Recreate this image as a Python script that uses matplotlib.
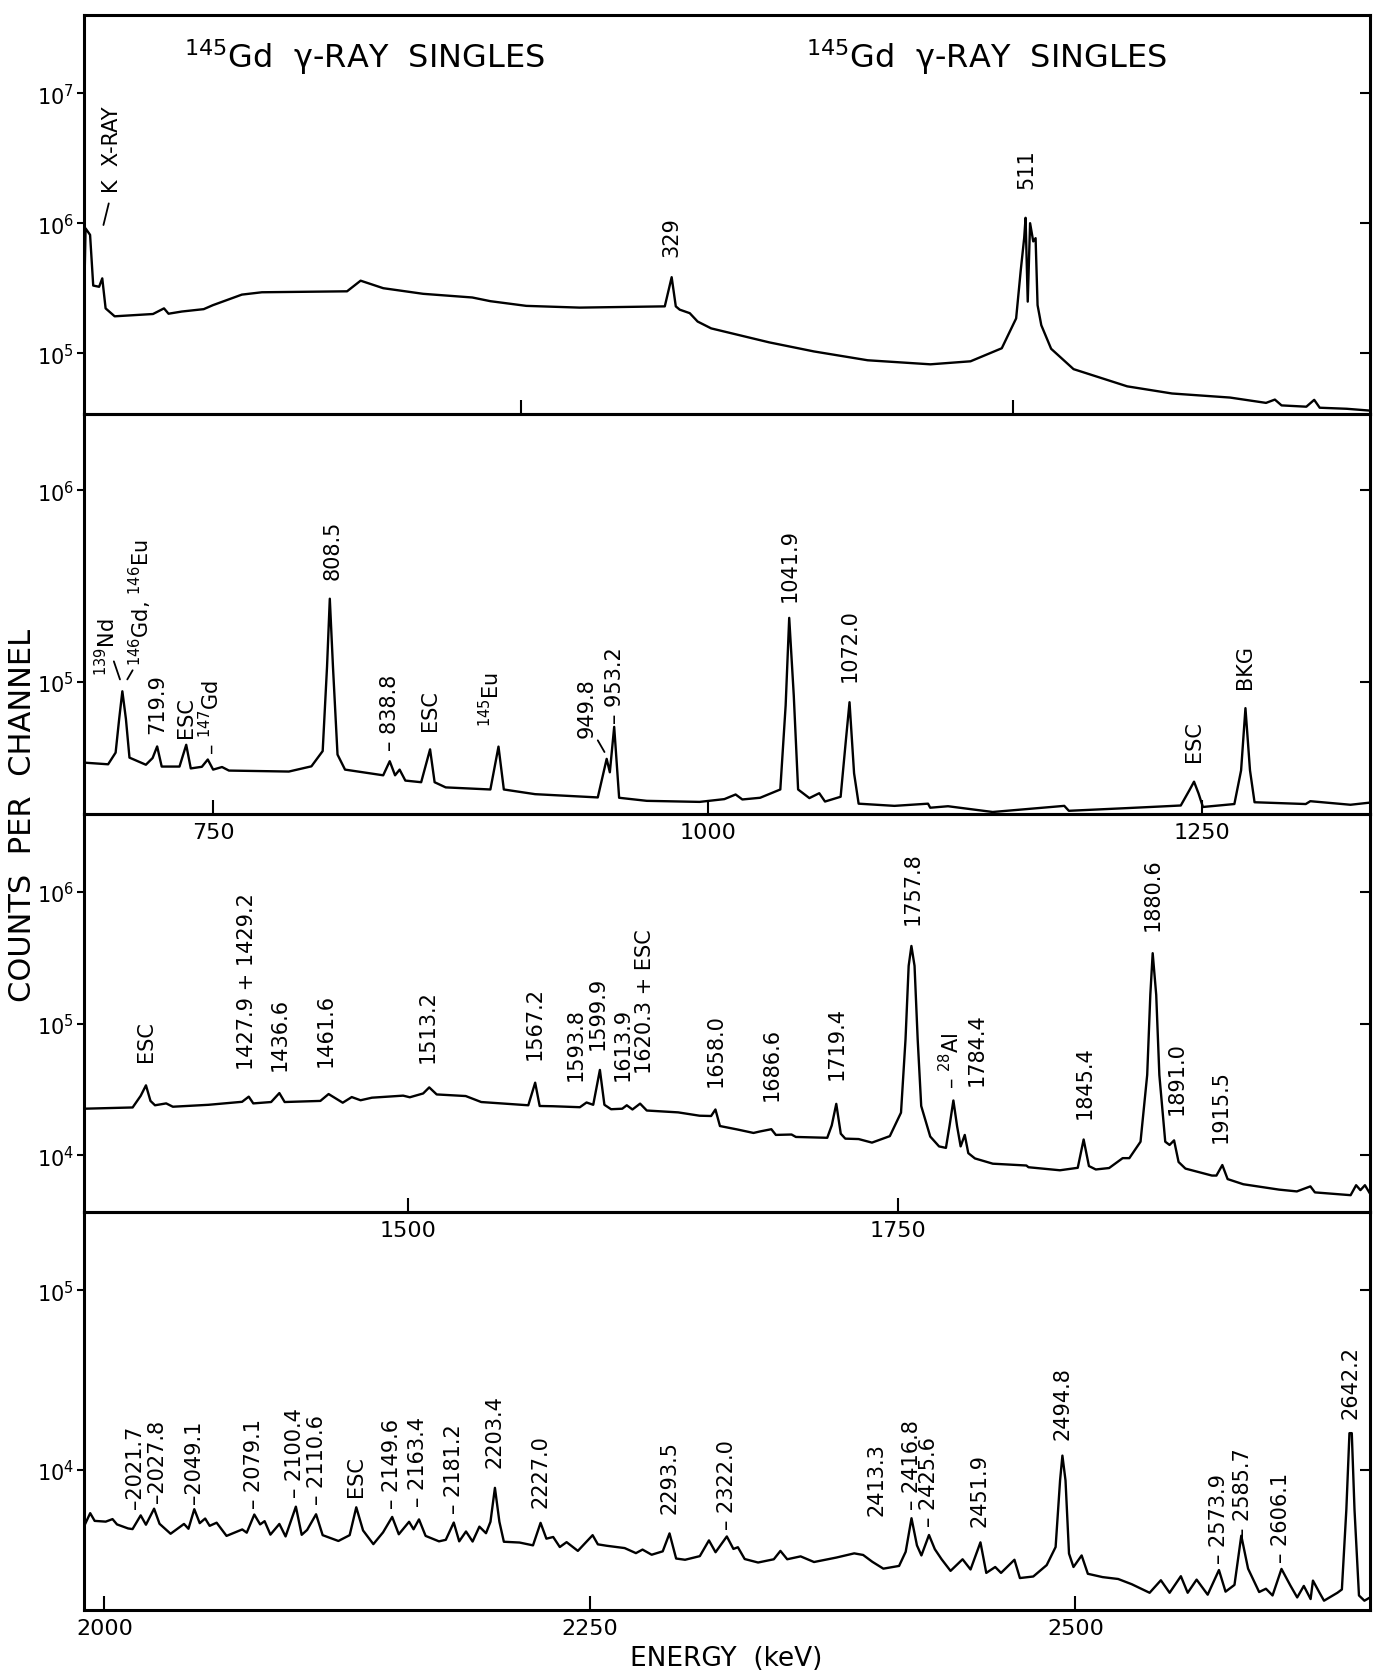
import matplotlib
matplotlib.use('Agg')
import matplotlib.pyplot as plt
from matplotlib.ticker import FixedLocator, NullLocator

plt.rcParams['font.family'] = 'DejaVu Sans'
plt.rcParams['mathtext.fontset'] = 'dejavusans'

# ---- panel 1 : 28 - 682 keV ----
p1_energy = [27.5, 28.3, 30.6, 32.2, 35.2, 36.8, 38.5, 43.1, 62.6, 68.2, 70.5, 77.3, 88.4, 93.1,
             107.8, 118, 161.3, 168.2, 179.7, 200, 225, 234.2, 252.5, 279.6, 322.9, 326.4, 328.5,
             330.5, 335.6, 339.6, 346.5, 376, 398.8, 426.1, 458, 478.4, 494.3, 501.6, 503.9, 505.7,
             506.4, 507.5, 508.7, 510.3, 511.5, 512.5, 514.4, 519.4, 530.8, 558.1, 580.9, 610.4,
             628.7, 633.2, 636.6, 649.2, 653.2, 656, 669.7, 681.6]
p1_counts = [2.20e5, 9.12e5, 8.13e5, 3.31e5, 3.24e5, 3.76e5, 2.21e5, 1.92e5, 2.00e5, 2.21e5, 2.01e5,
             2.09e5, 2.18e5, 2.34e5, 2.82e5, 2.94e5, 2.99e5, 3.61e5, 3.16e5, 2.86e5, 2.68e5, 2.51e5,
             2.31e5, 2.24e5, 2.29e5, 3.84e5, 2.29e5, 2.16e5, 2.03e5, 1.75e5, 1.55e5, 1.21e5, 1.03e5,
             8.81e4, 8.20e4, 8.65e4, 1.09e5, 1.85e5, 4.27e5, 7.71e5, 1.10e6, 2.49e5, 1.00e6, 7.24e5,
             7.67e5, 2.34e5, 1.64e5, 1.08e5, 7.53e4, 5.55e4, 4.89e4, 4.55e4, 4.14e4, 4.39e4, 3.96e4,
             3.87e4, 4.37e4, 3.80e4, 3.73e4, 3.61e4]
p1_lab_x = [41.9, 326.4, 506.9]
p1_lab_y = [1.75e6, 5.58e5, 1.87e6]
p1_lab_txt = ['K  X-RAY', '329', '511']

# ---- panel 2 : 684 - 1335 keV ----
p2_energy = [684, 696.9, 700.7, 702.5, 704.1, 705.9, 707.7, 716, 719.4, 721.7, 724, 733, 736.4,
             738.7, 744.3, 747.3, 750, 754.5, 758, 788.3, 799.7, 805.4, 807.6, 809, 810.6, 812.9,
             816.7, 836, 839.3, 842, 844.3, 847.2, 855.2, 859.7, 862, 867.6, 890.2, 894.3, 897,
             912.8, 944.5, 949, 950.6, 952.8, 955.3, 969.3, 996, 1008.5, 1014.2, 1017.6, 1026.6,
             1036.8, 1039.5, 1041.3, 1043.6, 1045.8, 1051.5, 1056.5, 1059.4, 1067.3, 1070, 1071.8,
             1074.1, 1076.4, 1094.5, 1111.5, 1112.6, 1121.6, 1144.2, 1180.4, 1182.7, 1212.1, 1228,
             1239.3, 1243.7, 1246, 1248.3, 1250.5, 1266.4, 1269.8, 1272, 1274.3, 1276.6, 1302.5,
             1304.8, 1325.1, 1335]
p2_counts = [3.79e4, 3.71e4, 4.27e4, 6.41e4, 8.93e4, 6.41e4, 4.02e4, 3.69e4, 4.00e4, 4.60e4, 3.61e4,
             3.61e4, 4.69e4, 3.53e4, 3.60e4, 3.93e4, 3.48e4, 3.59e4, 3.44e4, 3.40e4, 3.62e4, 4.35e4,
             1.20e5, 2.72e5, 1.20e5, 4.17e4, 3.48e4, 3.25e4, 3.85e4, 3.25e4, 3.48e4, 3.05e4, 2.99e4,
             4.44e4, 2.99e4, 2.81e4, 2.74e4, 4.59e4, 2.74e4, 2.59e4, 2.49e4, 3.96e4, 3.37e4, 5.82e4,
             2.48e4, 2.39e4, 2.36e4, 2.44e4, 2.58e4, 2.43e4, 2.48e4, 2.74e4, 7.53e4, 2.16e5, 8.51e4,
             2.74e4, 2.47e4, 2.62e4, 2.37e4, 2.51e4, 5.01e4, 7.83e4, 3.33e4, 2.31e4, 2.25e4, 2.31e4,
             2.20e4, 2.24e4, 2.09e4, 2.25e4, 2.12e4, 2.19e4, 2.23e4, 2.26e4, 2.72e4, 3.01e4, 2.61e4,
             2.22e4, 2.30e4, 3.45e4, 7.29e4, 3.45e4, 2.35e4, 2.30e4, 2.38e4, 2.28e4, 2.34e4]
p2_lab_x = [696, 713.4, 721.7, 736.4, 748.8, 810.6, 839.3, 859.7, 890.2, 938.8, 953, 1041.3,
            1071.8, 1246, 1272]
p2_lab_y = [1.09e5, 1.23e5, 5.43e4, 5.16e4, 4.22e4, 3.43e5, 4.39e4, 5.58e4, 5.90e4, 5.16e4,
            6.11e4, 2.65e5, 1.01e5, 3.84e4, 9.31e4]
p2_lab_txt = [r'$^{139}$Nd', r'$^{146}$Gd, $^{146}$Eu', '719.9', 'ESC', r'– $^{147}$Gd', '808.5',
              '– 838.8', 'ESC', r'$^{145}$Eu', '949.8', '– 953.2', '1041.9', '1072.0', 'ESC', 'BKG']

# ---- panel 3 : 1335 - 1991 keV ----
p3_energy = [1335, 1359.8, 1363.9, 1366.6, 1368.9, 1371.2, 1376.9, 1380.3, 1398.5, 1415.6, 1419,
             1421.3, 1430.4, 1434.6, 1437.3, 1455.5, 1459.7, 1466.9, 1471.5, 1476, 1481.8, 1497.7,
             1501.1, 1507.9, 1511, 1514.8, 1529.6, 1537.5, 1561.5, 1565, 1567.3, 1574.1, 1587.8,
             1591.2, 1594.6, 1598, 1600.3, 1603.7, 1609.4, 1611.7, 1614.6, 1618.5, 1621.9, 1637.9,
             1648.8, 1654.7, 1656.9, 1659.2, 1668.3, 1676.3, 1679.7, 1685.4, 1687.7, 1695.7, 1697.9,
             1713.9, 1716.2, 1718.5, 1720.8, 1723.1, 1729.9, 1736.7, 1745.8, 1751.5, 1753.8, 1755.4,
             1756.8, 1758.4, 1760, 1761.8, 1766.4, 1770.9, 1774.4, 1776.2, 1778.2, 1780.1, 1781.9,
             1784, 1785.8, 1789.2, 1798.3, 1815.4, 1816.5, 1832.5, 1841.6, 1844.6, 1847.3, 1850.8,
             1857.6, 1864.5, 1867.9, 1873.6, 1877, 1878.6, 1879.8, 1881.6, 1883.2, 1886.2, 1888.4,
             1890.7, 1893, 1896.5, 1910, 1912.3, 1915.3, 1918, 1926, 1944.2, 1953.3, 1960.2, 1962.5,
             1980.7, 1983.5, 1985.7, 1988, 1990.6]
p3_counts = [2.26e4, 2.31e4, 2.83e4, 3.40e4, 2.59e4, 2.40e4, 2.48e4, 2.34e4, 2.42e4, 2.55e4, 2.79e4,
             2.48e4, 2.54e4, 2.97e4, 2.54e4, 2.59e4, 2.92e4, 2.51e4, 2.77e4, 2.62e4, 2.74e4, 2.84e4,
             2.76e4, 2.95e4, 3.28e4, 2.90e4, 2.82e4, 2.54e4, 2.40e4, 3.56e4, 2.37e4, 2.36e4, 2.32e4,
             2.52e4, 2.42e4, 4.45e4, 2.42e4, 2.24e4, 2.26e4, 2.40e4, 2.23e4, 2.47e4, 2.19e4, 2.12e4,
             2.00e4, 1.99e4, 2.23e4, 1.67e4, 1.57e4, 1.48e4, 1.52e4, 1.58e4, 1.43e4, 1.44e4, 1.38e4,
             1.36e4, 1.69e4, 2.46e4, 1.46e4, 1.34e4, 1.33e4, 1.25e4, 1.40e4, 2.11e4, 7.60e4, 2.74e5,
             3.88e5, 2.74e5, 7.59e4, 2.37e4, 1.39e4, 1.17e4, 1.14e4, 1.66e4, 2.61e4, 1.66e4, 1.17e4,
             1.43e4, 1.04e4, 9.48e3, 8.65e3, 8.38e3, 8.13e3, 7.71e3, 8.05e3, 1.32e4, 8.30e3, 7.82e3,
             8.02e3, 9.53e3, 9.53e3, 1.27e4, 4.08e4, 1.66e5, 3.42e5, 1.65e5, 4.07e4, 1.27e4, 1.20e4,
             1.30e4, 8.91e3, 7.94e3, 7.03e3, 7.03e3, 8.45e3, 6.61e3, 6.04e3, 5.50e3, 5.33e3, 5.82e3,
             5.24e3, 4.99e3, 5.94e3, 5.45e3, 5.94e3, 5.12e3]
p3_lab_x = [1366.6, 1417.9, 1435, 1458.3, 1510.3, 1565, 1585.5, 1596.9, 1609.5, 1620.8, 1656.9,
            1685.4, 1718.5, 1757.2, 1776.6, 1790.3, 1845, 1880, 1891.9, 1914.6]
p3_lab_y = [5.21e4, 4.49e4, 4.47e4, 4.79e4, 5.14e4, 5.36e4, 3.75e4, 6.38e4, 3.72e4, 4.22e4, 3.36e4,
            2.64e4, 3.81e4, 5.66e5, 3.24e4, 3.41e4, 1.93e4, 5.14e5, 2.07e4, 1.26e4]
p3_lab_txt = ['ESC', '1427.9 + 1429.2', '1436.6', '1461.6', '1513.2', '1567.2', '1593.8', '1599.9',
              '1613.9', '1620.3 + ESC', '1658.0', '1686.6', '1719.4', '1757.8', r'– $^{28}$Al',
              '1784.4', '1845.4', '1880.6', '1891.0', '1915.5']

# ---- panel 4 : 1990 - 2652 keV ----
p4_energy = [1989.5, 1992.7, 1995, 2000.7, 2004.2, 2006.5, 2012.2, 2014.5, 2018.7, 2021.4,
             2025.6, 2028.4, 2034.1, 2041, 2043.3, 2046.3, 2049.1, 2051.9, 2054.2, 2057.8,
             2062.9, 2071, 2073.3, 2077.2, 2080.2, 2082.5, 2085.5, 2090.1, 2093.3, 2098.6,
             2101.6, 2104.4, 2109, 2112.4, 2120.5, 2126.3, 2129.7, 2133.2, 2138.5, 2143.5,
             2148.2, 2151.6, 2156.9, 2159.2, 2162, 2165.4, 2172.3, 2175.8, 2179.9, 2182.7,
             2186.2, 2189.6, 2193.1, 2196.5, 2198.8, 2201.1, 2203.4, 2205.7, 2213.8, 2220.7,
             2224.6, 2227.6, 2231.1, 2234.5, 2238, 2243.8, 2251.4, 2254.1, 2258.7, 2267.9,
             2273.7, 2277.1, 2281.8, 2287.5, 2291, 2294.4, 2299, 2306.6, 2311.3, 2314.7,
             2320.5, 2323.9, 2326.2, 2329.7, 2336.6, 2344.7, 2348.1, 2351.6, 2358.5, 2365.4,
             2376.9, 2386.1, 2390.7, 2395.4, 2401.1, 2409.2, 2412.6, 2415.6, 2418.4, 2420.7,
             2424.6, 2427.6, 2431.1, 2435.7, 2441.9, 2446, 2451.1, 2454.1, 2458.7, 2461.7,
             2468.6, 2471.4, 2478.3, 2485.2, 2489.8, 2492.1, 2493.3, 2494.9, 2496.7, 2499,
             2503.2, 2506.4, 2514, 2522, 2529, 2538.2, 2544, 2548.5, 2554.3, 2557.8,
             2562.4, 2568.1, 2573.9, 2577.3, 2581.9, 2585.4, 2588.9, 2594.6, 2598.1, 2601.5,
             2606.1, 2610.7, 2614.2, 2617.6, 2621.1, 2622.3, 2625.7, 2628, 2634.9, 2637.2,
             2639.5, 2641.1, 2642.3, 2643.7, 2646, 2648.8, 2651.7]
p4_counts = [4.84e3, 5.74e3, 5.20e3, 5.15e3, 5.32e3, 4.97e3, 4.72e3, 4.68e3, 5.58e3, 4.95e3,
             6.08e3, 5.01e3, 4.41e3, 5.00e3, 4.70e3, 6.04e3, 5.05e3, 5.36e3, 4.88e3, 5.08e3,
             4.29e3, 4.66e3, 4.47e3, 5.64e3, 4.97e3, 5.18e3, 4.36e3, 5.00e3, 4.26e3, 6.24e3,
             4.35e3, 4.63e3, 5.66e3, 4.33e3, 4.02e3, 4.33e3, 6.19e3, 4.60e3, 3.86e3, 4.49e3,
             5.47e3, 4.38e3, 5.14e3, 4.67e3, 5.30e3, 4.29e3, 4.00e3, 4.08e3, 5.09e3, 4.00e3,
             4.54e3, 3.99e3, 4.83e3, 4.44e3, 5.14e3, 7.94e3, 5.14e3, 3.98e3, 3.94e3, 3.80e3,
             5.07e3, 4.14e3, 4.23e3, 3.72e3, 3.96e3, 3.54e3, 4.33e3, 3.85e3, 3.78e3, 3.67e3,
             3.44e3, 3.60e3, 3.37e3, 3.52e3, 4.43e3, 3.21e3, 3.16e3, 3.31e3, 4.05e3, 3.48e3,
             4.26e3, 3.63e3, 3.71e3, 3.19e3, 3.05e3, 3.18e3, 3.54e3, 3.18e3, 3.30e3, 3.07e3,
             3.25e3, 3.43e3, 3.36e3, 3.08e3, 2.82e3, 2.92e3, 3.50e3, 5.38e3, 3.80e3, 3.34e3,
             4.34e3, 3.62e3, 3.18e3, 2.74e3, 3.18e3, 2.79e3, 3.95e3, 2.67e3, 2.88e3, 2.67e3,
             3.16e3, 2.50e3, 2.55e3, 2.95e3, 3.72e3, 8.75e3, 1.20e4, 8.73e3, 3.42e3, 2.88e3,
             3.34e3, 2.64e3, 2.53e3, 2.47e3, 2.31e3, 2.07e3, 2.43e3, 2.07e3, 2.56e3, 2.07e3,
             2.45e3, 2.02e3, 2.77e3, 2.10e3, 2.29e3, 4.30e3, 2.82e3, 2.09e3, 2.18e3, 2.00e3,
             2.81e3, 2.27e3, 1.95e3, 2.26e3, 1.91e3, 2.42e3, 2.07e3, 1.87e3, 2.07e3, 2.16e3,
             6.01e3, 1.60e4, 1.60e4, 6.01e3, 2.00e3, 1.87e3, 1.95e3]
p4_lab_x = [2015.7, 2027.2, 2046.1, 2077.2, 2097.9, 2109.4, 2129.7, 2148.2, 2161.5, 2179.9, 2201.1,
            2224.6, 2291, 2320.5, 2397.7, 2416.1, 2424.8, 2450.6, 2493.3, 2573.9, 2586.1, 2606.1,
            2641.4]
p4_lab_y = [6.10e3, 6.61e3, 6.58e3, 6.14e3, 7.10e3, 6.49e3, 7.19e3, 6.17e3, 6.28e3, 5.74e3, 1.04e4,
            6.19e3, 5.73e3, 4.69e3, 5.58e3, 6.05e3, 4.89e3, 4.85e3, 1.49e4, 3.02e3, 4.24e3, 3.06e3,
            1.94e4]
p4_lab_txt = ['–2021.7', '–2027.8', '–2049.1', '– 2079.1', '– 2100.4', '– 2110.6', 'ESC',
              '– 2149.6', '– 2163.4', '– 2181.2', '2203.4', '2227.0', '2293.5', '– 2322.0', '2413.3',
              '– 2416.8', '– 2425.6', '2451.9', '2494.8', '– 2573.9', '– 2585.7', '– 2606.1',
              '2642.2']

# slanted leader lines (from, to) in data units, per panel
p1_leaders = [((37.4, 9.68e5), (40.1, 1.42e6))]
p2_leaders = [((699.8, 1.28e5), (702.9, 1.03e5)),
              ((706.6, 1.03e5), (709.3, 1.15e5)),
              ((944.5, 4.95e4), (947.9, 4.30e4))]


def panel(rect, energy, counts, xlim, ylim, decades, xticks, xlabels,
          lab_x, lab_y, lab_txt, leaders):
    ax = fig.add_axes(rect)
    ax.set_facecolor('none')
    ax.plot(energy, counts, color='black', lw=1.7)
    ax.set_yscale('log')
    ax.set_xlim(xlim)
    ax.set_ylim(ylim)
    ax.yaxis.set_major_locator(FixedLocator(decades))
    ax.yaxis.set_minor_locator(NullLocator())
    ax.xaxis.set_major_locator(FixedLocator(xticks))
    ax.xaxis.set_minor_locator(NullLocator())
    ax.tick_params(axis='y', direction='out', length=5, width=1.5, labelsize=15, pad=2)
    ax.tick_params(axis='x', direction='in', length=10, width=1.5, labelsize=16, pad=6,
                   labelbottom=xlabels)
    for s in ax.spines.values():
        s.set_linewidth(2.2)
    # right-hand ticks point inwards
    axr = ax.twinx()
    axr.set_yscale('log')
    axr.set_ylim(ylim)
    axr.yaxis.set_major_locator(FixedLocator(decades))
    axr.yaxis.set_minor_locator(NullLocator())
    axr.tick_params(axis='y', direction='in', length=7, width=1.5, labelright=False)
    for s in axr.spines.values():
        s.set_visible(False)
    for x, y, t in zip(lab_x, lab_y, lab_txt):
        ax.text(x, y, t, rotation=90, ha='center', va='bottom', fontsize=15)
    for p, q in leaders:
        ax.annotate('', xy=q, xytext=p,
                    arrowprops=dict(arrowstyle='-', lw=1.3, shrinkA=0, shrinkB=0))
    return ax


fig = plt.figure(figsize=(13.79, 16.74), dpi=100)
L, W = 0.0609, 0.9326

panel([L, 0.75209, W, 0.23835], p1_energy, p1_counts, (27.5, 681.6), (3.4e4, 4.0e7),
      [1e5, 1e6, 1e7], [250, 500], False, p1_lab_x, p1_lab_y, p1_lab_txt, p1_leaders)
panel([L, 0.51314, W, 0.23895], p2_energy, p2_counts, (684.7, 1335), (2.04e4, 2.51e6),
      [1e5, 1e6], [750, 1000, 1250], True, p2_lab_x, p2_lab_y, p2_lab_txt, p2_leaders)
panel([L, 0.27539, W, 0.23775], p3_energy, p3_counts, (1335, 1990.6), (3.72e3, 3.89e6),
      [1e4, 1e5, 1e6], [1500, 1750], True, p3_lab_x, p3_lab_y, p3_lab_txt, [])
panel([L, 0.03763, W, 0.23776], p4_energy, p4_counts, (1989.5, 2651.7), (1.66e3, 2.72e5),
      [1e4, 1e5], [2000, 2250, 2500], True, p4_lab_x, p4_lab_y, p4_lab_txt, [])

fig.text(0.264, 0.9595, r'$^{145}$Gd  γ-RAY  SINGLES', ha='center', va='baseline', fontsize=23)
fig.text(0.7156, 0.9595, r'$^{145}$Gd  γ-RAY  SINGLES', ha='center', va='baseline', fontsize=23)
fig.text(0.0165, 0.513, 'COUNTS  PER  CHANNEL', rotation=90, ha='center', va='center', fontsize=22)
fig.text(0.5265, 0.009, 'ENERGY  (keV)', ha='center', va='center', fontsize=19)

fig.savefig('out.png', dpi=100)
